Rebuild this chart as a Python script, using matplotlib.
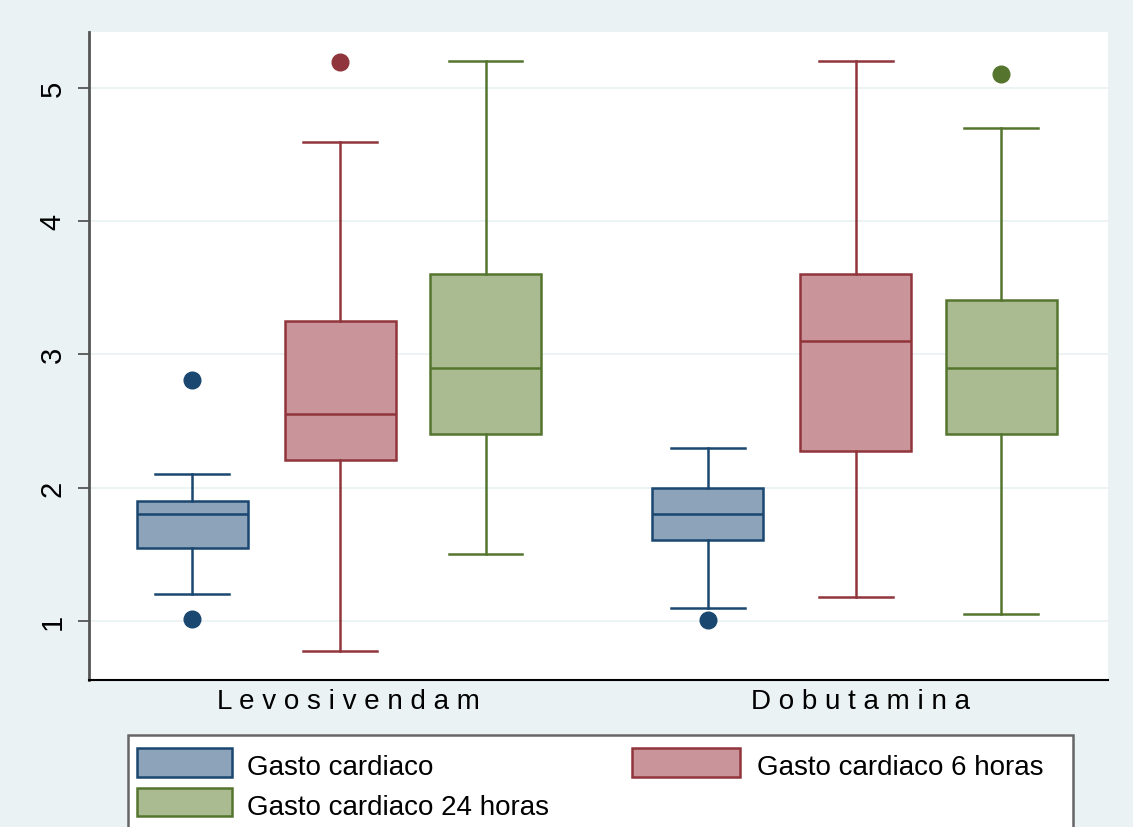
import matplotlib.pyplot as plt
from matplotlib.patches import Rectangle

plt.rcParams['font.family'] = ['Liberation Sans', 'DejaVu Sans']

# grupos de tratamiento y mediciones
grupos = ["Levosivendam", "Dobutamina"]
series = ["Gasto cardiaco", "Gasto cardiaco 6 horas", "Gasto cardiaco 24 horas"]

# resumen de cada caja: [Levosivendam, Dobutamina]
q1 = [[1.55, 1.61], [2.21, 2.275], [2.40, 2.40]]
mediana = [[1.80, 1.80], [2.55, 3.10], [2.90, 2.90]]
q3 = [[1.90, 2.00], [3.25, 3.60], [3.60, 3.41]]
bigote_inf = [[1.20, 1.10], [0.775, 1.18], [1.50, 1.05]]
bigote_sup = [[2.10, 2.30], [4.59, 5.20], [5.20, 4.70]]
atipicos = [[[2.81, 1.015], [1.01]], [[5.19], []], [[], [5.10]]]

relleno = ["#8ca3ba", "#c9959a", "#aabb91"]
borde = ["#1a476f", "#90353b", "#55752f"]

W, H = 1133, 828
fig = plt.figure(figsize=(W / 100, H / 100), dpi=100)
fig.patch.set_facecolor("#eaf2f3")
ax = fig.add_axes([89 / W, 1 - 681 / H, (1108 - 89) / W, (681 - 33) / H])
ax.set_facecolor("white")

desp = [-0.287, 0.0, 0.282]
for s in range(len(series)):
    stats = []
    pos = []
    for g in range(len(grupos)):
        stats.append(dict(med=mediana[s][g], q1=q1[s][g], q3=q3[s][g],
                          whislo=bigote_inf[s][g], whishi=bigote_sup[s][g],
                          fliers=atipicos[s][g]))
        pos.append(g + 1 + desp[s])
    ax.bxp(stats, positions=pos, widths=0.215, capwidths=0.143,
           patch_artist=True, zorder=3,
           boxprops=dict(facecolor=relleno[s], edgecolor=borde[s], linewidth=1.8),
           medianprops=dict(color=borde[s], linewidth=1.8),
           whiskerprops=dict(color=borde[s], linewidth=1.8),
           capprops=dict(color=borde[s], linewidth=1.8),
           flierprops=dict(marker="o", markersize=12, markerfacecolor=borde[s],
                           markeredgecolor=borde[s]))

ax.set_xlim(0.513, 2.489)
ax.set_ylim(0.5575, 5.4175)
ax.set_yticks([1, 2, 3, 4, 5])
ax.set_yticklabels(["1", "2", "3", "4", "5"], rotation=90, va="center", fontsize=21)
# etiquetas de grupo un poco a la derecha del centro
ax.set_xticks([1.017, 2.009])
ax.set_xticklabels([" ".join(g) for g in grupos], fontsize=20)
ax.tick_params(axis="x", length=0, pad=6)
ax.tick_params(axis="y", length=8, width=1.3, color="#555555", pad=8)
ax.grid(axis="y", color="#eaf2f3", linewidth=1.3, zorder=0)
ax.set_axisbelow(True)
for lado in ["top", "right"]:
    ax.spines[lado].set_visible(False)
ax.spines["left"].set_color("#555555")
ax.spines["left"].set_linewidth(2)
ax.spines["bottom"].set_color("black")
ax.spines["bottom"].set_linewidth(1.5)


def fx(x):
    return x / W


def fy(y):
    return 1 - y / H


# leyenda dibujada a mano, el recuadro se sale por abajo
fig.patches.append(Rectangle((fx(128), fy(840)), fx(1073) - fx(128), fy(736) - fy(840),
                             transform=fig.transFigure, facecolor="white",
                             edgecolor="#666666", linewidth=1.8))
entradas = [(137, 232, 749, 778, 247, 775),
            (632, 740, 749, 778, 757, 775),
            (137, 232, 789, 817, 247, 815)]
for s, (x0, x1, y0, y1, tx, ty) in enumerate(entradas):
    fig.patches.append(Rectangle((fx(x0), fy(y1)), fx(x1) - fx(x0), fy(y0) - fy(y1),
                                 transform=fig.transFigure, facecolor=relleno[s],
                                 edgecolor=borde[s], linewidth=1.8))
    fig.text(fx(tx), fy(ty), series[s], fontsize=20, va="baseline", ha="left")

fig.savefig("out.png", dpi=100, facecolor=fig.get_facecolor())
